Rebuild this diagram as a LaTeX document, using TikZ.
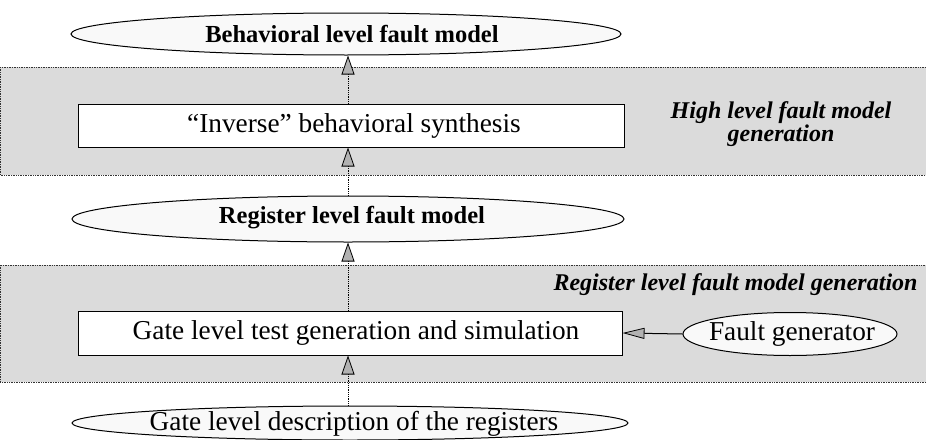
\documentclass[tikz,border=0pt]{standalone}
\usepackage{fontspec}
\setmainfont{Liberation Serif}
\usetikzlibrary{shapes.geometric,arrows.meta}
\begin{document}
\begin{tikzpicture}[x=1pt,y=-1pt,
  band/.style={fill=gray!28,draw=black!80,densely dotted,line width=0.7pt},
  ell/.style={ellipse,draw=black,line width=1pt,fill=gray!5,inner sep=0pt},
  stepbox/.style={rectangle,draw=black,line width=1pt,fill=white,inner sep=0pt},
  txt/.style={font=\fontsize{27.3}{30}\selectfont},
  btxt/.style={font=\fontsize{24.5}{28}\selectfont\bfseries},
  itxt/.style={font=\fontsize{24}{19.5}\selectfont\bfseries\itshape,align=center},
  flow/.style={densely dotted,line width=0.8pt,-{Triangle[length=19pt,width=13pt,fill=gray!60,line width=0.8pt]}},
  side/.style={line width=1pt,-{Triangle[length=22pt,width=11pt,fill=gray!60,line width=0.8pt]}}
]
\useasboundingbox (0,0) rectangle (926,439);
% bands
\path[band] (0,67) rectangle (926,175);
\path[band] (0,265) rectangle (926,382);

% ellipses
\node[ell,minimum width=550pt,minimum height=42pt] (e1) at (346,34) {};
\node[btxt] (e1t) at (352,34) {Behavioral level fault model};

\node[ell,minimum width=552pt,minimum height=46pt] (e2) at (348,219) {};
\node[btxt] (e2t) at (352,218) {Register level fault model};

\node[ell,minimum width=556pt,minimum height=34pt] (e3) at (350,423) {};
\node[txt] (e3t) at (354,424) {Gate level description of the registers};

\node[ell,minimum width=214pt,minimum height=43pt] (fg) at (790,334) {};
\node[txt] (fgt) at (792,334) {Fault generator};

% boxes
\node[stepbox,minimum width=546pt,minimum height=43pt] (b1) at (351,125.5) {};
\node[txt] (b1t) at (354,125.5) {``Inverse'' behavioral synthesis};

\node[stepbox,minimum width=544pt,minimum height=44pt] (b2) at (350,333) {};
\node[txt] (b2t) at (356,333) {Gate level test generation and simulation};

% band labels
\node[itxt] (l1) at (781,124) {High level fault model\\generation};
\node[itxt,anchor=east] (l2) at (921,285) {Register level fault model generation};

% connectors
\draw[flow] (e3.north -| 348,0) -- (b2.south -| 348,0);
\draw[flow] (b2.north -| 348,0) -- (e2.south -| 348,0);
\draw[flow] (e2.north -| 348,0) -- (b1.south -| 348,0);
\draw[flow] (b1.north -| 348,0) -- (e1.south -| 348,0);
\draw[side] (fg.west) -- (b2.east);
\end{tikzpicture}
\end{document}
